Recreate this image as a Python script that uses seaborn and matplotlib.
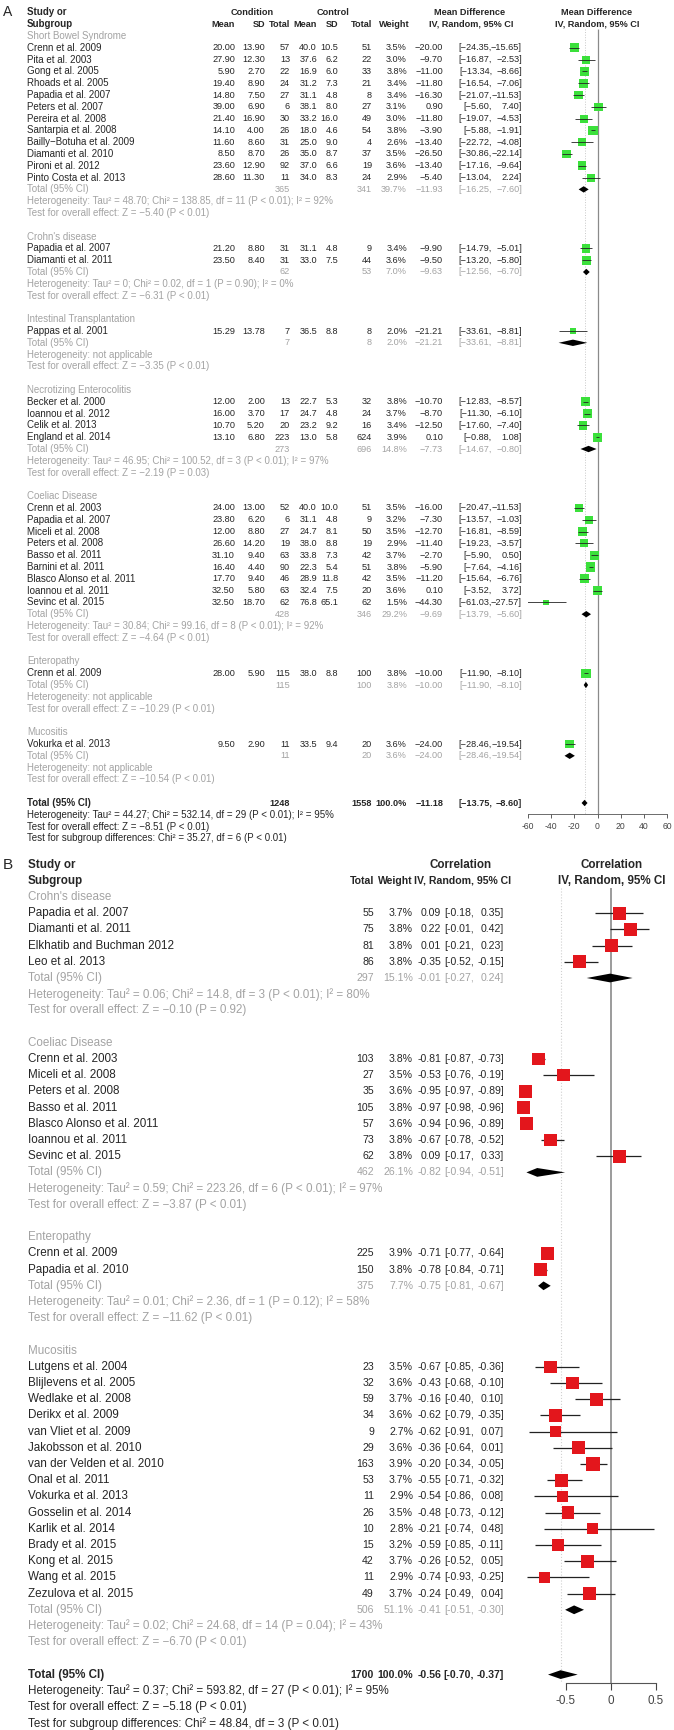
import matplotlib
matplotlib.use("Agg")
import matplotlib.pyplot as plt
import matplotlib.transforms as mtransforms
import seaborn as sns

# ---------------- Panel A: mean difference ----------------
a_groups = ["Short Bowel Syndrome", "Crohn's disease", "Intestinal Transplantation",
            "Necrotizing Enterocolitis", "Coeliac Disease", "Enteropathy", "Mucositis"]
a_study = ["Crenn et al. 2009", "Pita et al. 2003", "Gong et al. 2005", "Rhoads et al. 2005",
           "Papadia et al. 2007", "Peters et al. 2007", "Pereira et al. 2008", "Santarpia et al. 2008",
           "Bailly\u2212Botuha et al. 2009", "Diamanti et al. 2010", "Pironi et al. 2012",
           "Pinto Costa et al. 2013",
           "Papadia et al. 2007", "Diamanti et al. 2011",
           "Pappas et al. 2001",
           "Becker et al. 2000", "Ioannou et al. 2012", "Celik et al. 2013", "England et al. 2014",
           "Crenn et al. 2003", "Papadia et al. 2007", "Miceli et al. 2008", "Peters et al. 2008",
           "Basso et al. 2011", "Barnini et al. 2011", "Blasco Alonso et al. 2011",
           "Ioannou et al. 2011", "Sevinc et al. 2015",
           "Crenn et al. 2009",
           "Vokurka et al. 2013"]
a_group = [0] * 12 + [1] * 2 + [2] + [3] * 4 + [4] * 9 + [5] + [6]
a_cmean = [20.00, 27.90, 5.90, 19.40, 14.80, 39.00, 21.40, 14.10, 11.60, 8.50, 23.60, 28.60,
           21.20, 23.50, 15.29, 12.00, 16.00, 10.70, 13.10, 24.00, 23.80, 12.00, 26.60, 31.10,
           16.40, 17.70, 32.50, 32.50, 28.00, 9.50]
a_csd = [13.90, 12.30, 2.70, 8.90, 7.50, 6.90, 16.90, 4.00, 8.60, 8.70, 12.90, 11.30,
         8.80, 8.40, 13.78, 2.00, 3.70, 5.20, 6.80, 13.00, 6.20, 8.80, 14.20, 9.40,
         4.40, 9.40, 5.80, 18.70, 5.90, 2.90]
a_ctot = [57, 13, 22, 24, 27, 6, 30, 26, 31, 26, 92, 11, 31, 31, 7, 13, 17, 20, 223,
          52, 6, 27, 19, 63, 90, 46, 63, 62, 115, 11]
a_kmean = [40.0, 37.6, 16.9, 31.2, 31.1, 38.1, 33.2, 18.0, 25.0, 35.0, 37.0, 34.0, 31.1, 33.0,
           36.5, 22.7, 24.7, 23.2, 13.0, 40.0, 31.1, 24.7, 38.0, 33.8, 22.3, 28.9, 32.4, 76.8,
           38.0, 33.5]
a_ksd = [10.5, 6.2, 6.0, 7.3, 4.8, 8.0, 16.0, 4.6, 9.0, 8.7, 6.6, 8.3, 4.8, 7.5, 8.8, 5.3,
         4.8, 9.2, 5.8, 10.0, 4.8, 8.1, 8.8, 7.3, 5.4, 11.8, 7.5, 65.1, 8.8, 9.4]
a_ktot = [51, 22, 33, 21, 8, 27, 49, 54, 4, 37, 19, 24, 9, 44, 8, 32, 24, 16, 624,
          51, 9, 50, 19, 42, 51, 42, 20, 62, 100, 20]
a_weight = [3.5, 3.0, 3.8, 3.4, 3.4, 3.1, 3.0, 3.8, 2.6, 3.5, 3.6, 2.9, 3.4, 3.6, 2.0, 3.8,
            3.7, 3.4, 3.9, 3.5, 3.2, 3.5, 2.9, 3.7, 3.8, 3.5, 3.6, 1.5, 3.8, 3.6]
a_md = [-20.00, -9.70, -11.00, -11.80, -16.30, 0.90, -11.80, -3.90, -13.40, -26.50, -13.40,
        -5.40, -9.90, -9.50, -21.21, -10.70, -8.70, -12.50, 0.10, -16.00, -7.30, -12.70,
        -11.40, -2.70, -5.90, -11.20, 0.10, -44.30, -10.00, -24.00]
a_lo = [-24.35, -16.87, -13.34, -16.54, -21.07, -5.60, -19.07, -5.88, -22.72, -30.86, -17.16,
        -13.04, -14.79, -13.20, -33.61, -12.83, -11.30, -17.60, -0.88, -20.47, -13.57, -16.81,
        -19.23, -5.90, -7.64, -15.64, -3.52, -61.03, -11.90, -28.46]
a_hi = [-15.65, -2.53, -8.66, -7.06, -11.53, 7.40, -4.53, -1.91, -4.08, -22.14, -9.64, 2.24,
        -5.01, -5.80, -8.81, -8.57, -6.10, -7.40, 1.08, -11.53, -1.03, -8.59, -3.57, 0.50,
        -4.16, -6.76, 3.72, -27.57, -8.10, -19.54]

a_sub_ctot = [365, 62, 7, 273, 428, 115, 11]
a_sub_ktot = [341, 53, 8, 696, 346, 100, 20]
a_sub_w = [39.7, 7.0, 2.0, 14.8, 29.2, 3.8, 3.6]
a_sub_md = [-11.93, -9.63, -21.21, -7.73, -9.69, -10.00, -24.00]
a_sub_lo = [-16.25, -12.56, -33.61, -14.67, -13.79, -11.90, -28.46]
a_sub_hi = [-7.60, -6.70, -8.81, -0.80, -5.60, -8.10, -19.54]
a_sub_het = ["Heterogeneity: Tau\u00b2 = 48.70; Chi\u00b2 = 138.85, df = 11 (P < 0.01); I\u00b2 = 92%",
             "Heterogeneity: Tau\u00b2 = 0; Chi\u00b2 = 0.02, df = 1 (P = 0.90); I\u00b2 = 0%",
             "Heterogeneity: not applicable",
             "Heterogeneity: Tau\u00b2 = 46.95; Chi\u00b2 = 100.52, df = 3 (P < 0.01); I\u00b2 = 97%",
             "Heterogeneity: Tau\u00b2 = 30.84; Chi\u00b2 = 99.16, df = 8 (P < 0.01); I\u00b2 = 92%",
             "Heterogeneity: not applicable",
             "Heterogeneity: not applicable"]
a_sub_test = ["Test for overall effect: Z = \u22125.40 (P < 0.01)",
              "Test for overall effect: Z = \u22126.31 (P < 0.01)",
              "Test for overall effect: Z = \u22123.35 (P < 0.01)",
              "Test for overall effect: Z = \u22122.19 (P = 0.03)",
              "Test for overall effect: Z = \u22124.64 (P < 0.01)",
              "Test for overall effect: Z = \u221210.29 (P < 0.01)",
              "Test for overall effect: Z = \u221210.54 (P < 0.01)"]
a_all_ctot, a_all_ktot = 1248, 1558
a_all_md, a_all_lo, a_all_hi = -11.18, -13.75, -8.60
a_all_lines = ["Heterogeneity: Tau\u00b2 = 44.27; Chi\u00b2 = 532.14, df = 29 (P < 0.01); I\u00b2 = 95%",
               "Test for overall effect: Z = \u22128.51 (P < 0.01)",
               "Test for subgroup differences: Chi\u00b2 = 35.27, df = 6 (P < 0.01)"]
a_ticks = [-60, -40, -20, 0, 20, 40, 60]

# ---------------- Panel B: correlation ----------------
b_groups = ["Crohn's disease", "Coeliac Disease", "Enteropathy", "Mucositis"]
b_study = ["Papadia et al. 2007", "Diamanti et al. 2011", "Elkhatib and Buchman 2012", "Leo et al. 2013",
           "Crenn et al. 2003", "Miceli et al. 2008", "Peters et al. 2008", "Basso et al. 2011",
           "Blasco Alonso et al. 2011", "Ioannou et al. 2011", "Sevinc et al. 2015",
           "Crenn et al. 2009", "Papadia et al. 2010",
           "Lutgens et al. 2004", "Blijlevens et al. 2005", "Wedlake et al. 2008", "Derikx et al. 2009",
           "van Vliet et al. 2009", "Jakobsson et al. 2010", "van der Velden et al. 2010",
           "Onal et al. 2011", "Vokurka et al. 2013", "Gosselin et al. 2014", "Karlik et al. 2014",
           "Brady et al. 2015", "Kong et al. 2015", "Wang et al. 2015", "Zezulova et al. 2015"]
b_group = [0] * 4 + [1] * 7 + [2] * 2 + [3] * 15
b_total = [55, 75, 81, 86, 103, 27, 35, 105, 57, 73, 62, 225, 150,
           23, 32, 59, 34, 9, 29, 163, 53, 11, 26, 10, 15, 42, 11, 49]
b_weight = [3.7, 3.8, 3.8, 3.8, 3.8, 3.5, 3.6, 3.8, 3.6, 3.8, 3.8, 3.9, 3.8,
            3.5, 3.6, 3.7, 3.6, 2.7, 3.6, 3.9, 3.7, 2.9, 3.5, 2.8, 3.2, 3.7, 2.9, 3.7]
b_cor = [0.09, 0.22, 0.01, -0.35, -0.81, -0.53, -0.95, -0.97, -0.94, -0.67, 0.09, -0.71, -0.78,
         -0.67, -0.43, -0.16, -0.62, -0.62, -0.36, -0.20, -0.55, -0.54, -0.48, -0.21, -0.59,
         -0.26, -0.74, -0.24]
b_lo = [-0.18, -0.01, -0.21, -0.52, -0.87, -0.76, -0.97, -0.98, -0.96, -0.78, -0.17, -0.77, -0.84,
        -0.85, -0.68, -0.40, -0.79, -0.91, -0.64, -0.34, -0.71, -0.86, -0.73, -0.74, -0.85,
        -0.52, -0.93, -0.49]
b_hi = [0.35, 0.42, 0.23, -0.15, -0.73, -0.19, -0.89, -0.96, -0.89, -0.52, 0.33, -0.64, -0.71,
        -0.36, -0.10, 0.10, -0.35, 0.07, 0.01, -0.05, -0.32, 0.08, -0.12, 0.48, -0.11,
        0.05, -0.25, 0.04]

b_sub_total = [297, 462, 375, 506]
b_sub_w = [15.1, 26.1, 7.7, 51.1]
b_sub_cor = [-0.01, -0.82, -0.75, -0.41]
b_sub_lo = [-0.27, -0.94, -0.81, -0.51]
b_sub_hi = [0.24, -0.51, -0.67, -0.30]
b_sub_het = ["Heterogeneity: Tau\u00b2 = 0.06; Chi\u00b2 = 14.8, df = 3 (P < 0.01); I\u00b2 = 80%",
             "Heterogeneity: Tau\u00b2 = 0.59; Chi\u00b2 = 223.26, df = 6 (P < 0.01); I\u00b2 = 97%",
             "Heterogeneity: Tau\u00b2 = 0.01; Chi\u00b2 = 2.36, df = 1 (P = 0.12); I\u00b2 = 58%",
             "Heterogeneity: Tau\u00b2 = 0.02; Chi\u00b2 = 24.68, df = 14 (P = 0.04); I\u00b2 = 43%"]
b_sub_test = ["Test for overall effect: Z = \u22120.10 (P = 0.92)",
              "Test for overall effect: Z = \u22123.87 (P < 0.01)",
              "Test for overall effect: Z = \u221211.62 (P < 0.01)",
              "Test for overall effect: Z = \u22126.70 (P < 0.01)"]
b_all_total = 1700
b_all_cor, b_all_lo, b_all_hi = -0.56, -0.70, -0.37
b_all_lines = ["Heterogeneity: Tau\u00b2 = 0.37; Chi\u00b2 = 593.82, df = 27 (P < 0.01); I\u00b2 = 95%",
               "Test for overall effect: Z = \u22125.18 (P < 0.01)",
               "Test for subgroup differences: Chi\u00b2 = 48.84, df = 3 (P < 0.01)"]
b_ticks = [-0.5, 0, 0.5]
b_ticklabels = ["-0.5", "0", "0.5"]

# ---------------- styling ----------------
W, H = 674, 1730
GREY = "#a3a3a3"
GREEN = "#3be03b"
RED = "#e3161c"

sns.set_theme(style="white")
plt.rcParams["font.family"] = ["Liberation Sans", "DejaVu Sans"]

fig = plt.figure(figsize=(W / 100, H / 100), dpi=100)


def fmt(v, d=2, minus="\u2212"):
    return f"{v:.{d}f}".replace("-", minus)


def layout_rows(groups, group_idx):
    label_rows, study_rows, sub_rows = [], [], []
    r = 0
    for g in range(len(groups)):
        label_rows.append(r)
        r += 1
        for gi in group_idx:
            if gi == g:
                study_rows.append(r)
                r += 1
        sub_rows.append(r)
        r += 4
    return label_rows, study_rows, sub_rows, r


def panel_axes(y0, pitch, top_row, axis_row, left_px, right_px):
    top_px = y0 + pitch * top_row
    bot_px = y0 + pitch * axis_row
    ax = fig.add_axes([left_px / W, 1 - bot_px / H, (right_px - left_px) / W, (bot_px - top_px) / H])
    ax.set_ylim(axis_row, top_row)
    ax.patch.set_alpha(0)
    for s in ["top", "right", "left"]:
        ax.spines[s].set_visible(False)
    ax.set_yticks([])
    return ax


def put(ax, px, row, s, ha="left", **kw):
    tr = mtransforms.blended_transform_factory(fig.transFigure, ax.transData)
    ax.text(px / W, row, s, transform=tr, ha=ha, va="center", clip_on=False, **kw)


def diamond(ax, est, lo, hi, row, h):
    ax.fill([lo, est, hi, est], [row, row - h, row, row + h], color="black", lw=0, zorder=5)


# ================= Panel A =================
A_AXIS = 65.9
ax_a = panel_axes(36, 11.8, -2.7, A_AXIS, 528, 667)
ax_a.set_xlim(-60, 60)
la, sa, ua, oa = layout_rows(a_groups, a_group)
fa = 7.0    # labels
fan = 6.6   # numbers / column headers

ax_a.vlines(0, -0.6, A_AXIS, color="#8a8a8a", lw=0.9, zorder=1)
ax_a.vlines(a_all_md, -0.6, A_AXIS, color="#c8c8c8", lw=0.7, linestyles=":", zorder=1)
ax_a.hlines(sa, a_lo, a_hi, color="#222222", lw=0.6, zorder=4)
sns.scatterplot(x=a_md, y=sa, marker="s", s=[w * 11.5 for w in a_weight], color=GREEN,
                linewidth=0, legend=False, ax=ax_a, zorder=3)
for g in range(len(a_groups)):
    diamond(ax_a, a_sub_md[g], a_sub_lo[g], a_sub_hi[g], ua[g], 0.27)
diamond(ax_a, a_all_md, a_all_lo, a_all_hi, oa, 0.27)

ax_a.spines["bottom"].set_bounds(-60, 60)
ax_a.spines["bottom"].set_color("#555555")
ax_a.spines["bottom"].set_linewidth(0.6)
ax_a.set_xticks(a_ticks)
ax_a.set_xticklabels([fmt(t, 0, "-") for t in a_ticks])
ax_a.tick_params(axis="x", bottom=True, length=3, width=0.6, pad=3, labelsize=6.2,
                 colors="#444444")

# headers
put(ax_a, 3, -2, "A", fontsize=10)
put(ax_a, 27, -2, "Study or", fontsize=fa, fontweight="bold")
put(ax_a, 27, -1, "Subgroup", fontsize=fa, fontweight="bold")
put(ax_a, 252, -2, "Condition", ha="center", fontsize=fan, fontweight="bold")
put(ax_a, 333, -2, "Control", ha="center", fontsize=fan, fontweight="bold")
put(ax_a, 470, -2, "Mean Difference", ha="center", fontsize=fan, fontweight="bold")
put(ax_a, 597, -2, "Mean Difference", ha="center", fontsize=fan, fontweight="bold")
for px, lab in [(235, "Mean"), (265, "SD"), (290, "Total"), (317, "Mean"), (338, "SD"),
                (372, "Total"), (410, "Weight")]:
    put(ax_a, px, -1, lab, ha="right", fontsize=fan, fontweight="bold")
put(ax_a, 471, -1, "IV, Random, 95% CI", ha="center", fontsize=fan, fontweight="bold")
put(ax_a, 597, -1, "IV, Random, 95% CI", ha="center", fontsize=fan, fontweight="bold")

for i, r in enumerate(sa):
    put(ax_a, 27, r, a_study[i], fontsize=fa)
    put(ax_a, 235, r, fmt(a_cmean[i]), ha="right", fontsize=fan)
    put(ax_a, 265, r, fmt(a_csd[i]), ha="right", fontsize=fan)
    put(ax_a, 290, r, str(a_ctot[i]), ha="right", fontsize=fan)
    put(ax_a, 317, r, fmt(a_kmean[i], 1), ha="right", fontsize=fan)
    put(ax_a, 338, r, fmt(a_ksd[i], 1), ha="right", fontsize=fan)
    put(ax_a, 372, r, str(a_ktot[i]), ha="right", fontsize=fan)
    put(ax_a, 407, r, f"{a_weight[i]:.1f}%", ha="right", fontsize=fan)
    put(ax_a, 443, r, fmt(a_md[i]), ha="right", fontsize=fan)
    put(ax_a, 492, r, "[" + fmt(a_lo[i]) + ",", ha="right", fontsize=fan)
    put(ax_a, 522, r, fmt(a_hi[i]) + "]", ha="right", fontsize=fan)

for g in range(len(a_groups)):
    put(ax_a, 27, la[g], a_groups[g], fontsize=fa, color=GREY)
    r = ua[g]
    put(ax_a, 27, r, "Total (95% CI)", fontsize=fa, color=GREY)
    put(ax_a, 290, r, str(a_sub_ctot[g]), ha="right", fontsize=fan, color=GREY)
    put(ax_a, 372, r, str(a_sub_ktot[g]), ha="right", fontsize=fan, color=GREY)
    put(ax_a, 407, r, f"{a_sub_w[g]:.1f}%", ha="right", fontsize=fan, color=GREY)
    put(ax_a, 443, r, fmt(a_sub_md[g]), ha="right", fontsize=fan, color=GREY)
    put(ax_a, 492, r, "[" + fmt(a_sub_lo[g]) + ",", ha="right", fontsize=fan, color=GREY)
    put(ax_a, 522, r, fmt(a_sub_hi[g]) + "]", ha="right", fontsize=fan, color=GREY)
    put(ax_a, 27, r + 1, a_sub_het[g], fontsize=fa, color=GREY)
    put(ax_a, 27, r + 2, a_sub_test[g], fontsize=fa, color=GREY)

put(ax_a, 27, oa, "Total (95% CI)", fontsize=fa, fontweight="bold")
put(ax_a, 290, oa, str(a_all_ctot), ha="right", fontsize=fan, fontweight="bold")
put(ax_a, 372, oa, str(a_all_ktot), ha="right", fontsize=fan, fontweight="bold")
put(ax_a, 407, oa, "100.0%", ha="right", fontsize=fan, fontweight="bold")
put(ax_a, 443, oa, fmt(a_all_md), ha="right", fontsize=fan, fontweight="bold")
put(ax_a, 492, oa, "[" + fmt(a_all_lo) + ",", ha="right", fontsize=fan, fontweight="bold")
put(ax_a, 522, oa, fmt(a_all_hi) + "]", ha="right", fontsize=fan, fontweight="bold")
for k, line in enumerate(a_all_lines):
    put(ax_a, 27, oa + 1 + k, line, fontsize=fa)

# ================= Panel B =================
B_AXIS = 48.5
ax_b = panel_axes(897, 16.2, -2.7, B_AXIS, 512, 674)
ax_b.set_xlim(-1.1, 0.7)
lb, sb, ub, ob = layout_rows(b_groups, b_group)
fb = 8.4    # labels
fbn = 7.6   # numbers / column headers

ax_b.vlines(0, -0.55, B_AXIS, color="#8a8a8a", lw=1.2, zorder=1)
ax_b.vlines(b_all_cor, -0.55, B_AXIS, color="#d0d0d0", lw=0.8, linestyles=":", zorder=1)
ax_b.hlines(sb, b_lo, b_hi, color="#222222", lw=0.9, zorder=2)
sns.scatterplot(x=b_cor, y=sb, marker="s", s=[w * 23.0 for w in b_weight], color=RED,
                linewidth=0, legend=False, ax=ax_b, zorder=3)
for g in range(len(b_groups)):
    diamond(ax_b, b_sub_cor[g], b_sub_lo[g], b_sub_hi[g], ub[g], 0.27)
diamond(ax_b, b_all_cor, b_all_lo, b_all_hi, ob, 0.27)

ax_b.spines["bottom"].set_bounds(-0.5, 0.5)
ax_b.spines["bottom"].set_color("#555555")
ax_b.spines["bottom"].set_linewidth(0.8)
ax_b.set_xticks(b_ticks)
ax_b.set_xticklabels(b_ticklabels)
ax_b.tick_params(axis="x", bottom=True, length=5, width=0.8, pad=4, labelsize=fb,
                 colors="#444444")

put(ax_b, 3, -2, "B", fontsize=11)
put(ax_b, 28, -2, "Study or", fontsize=fb, fontweight="bold")
put(ax_b, 28, -1, "Subgroup", fontsize=fb, fontweight="bold")
put(ax_b, 461, -2, "Correlation", ha="center", fontsize=fb, fontweight="bold")
put(ax_b, 612, -2, "Correlation", ha="center", fontsize=fb, fontweight="bold")
put(ax_b, 374, -1, "Total", ha="right", fontsize=fbn, fontweight="bold")
put(ax_b, 413, -1, "Weight", ha="right", fontsize=fbn, fontweight="bold")
put(ax_b, 463, -1, "IV, Random, 95% CI", ha="center", fontsize=fbn, fontweight="bold")
put(ax_b, 612, -1, "IV, Random, 95% CI", ha="center", fontsize=fb, fontweight="bold")

for i, r in enumerate(sb):
    put(ax_b, 28, r, b_study[i], fontsize=fb)
    put(ax_b, 374, r, str(b_total[i]), ha="right", fontsize=fbn)
    put(ax_b, 413, r, f"{b_weight[i]:.1f}%", ha="right", fontsize=fbn)
    put(ax_b, 441, r, fmt(b_cor[i], 2, "-"), ha="right", fontsize=fbn)
    put(ax_b, 474, r, "[" + fmt(b_lo[i], 2, "-") + ",", ha="right", fontsize=fbn)
    put(ax_b, 504, r, fmt(b_hi[i], 2, "-") + "]", ha="right", fontsize=fbn)

for g in range(len(b_groups)):
    put(ax_b, 28, lb[g], b_groups[g], fontsize=fb, color=GREY)
    r = ub[g]
    put(ax_b, 28, r, "Total (95% CI)", fontsize=fb, color=GREY)
    put(ax_b, 374, r, str(b_sub_total[g]), ha="right", fontsize=fbn, color=GREY)
    put(ax_b, 413, r, f"{b_sub_w[g]:.1f}%", ha="right", fontsize=fbn, color=GREY)
    put(ax_b, 441, r, fmt(b_sub_cor[g], 2, "-"), ha="right", fontsize=fbn, color=GREY)
    put(ax_b, 474, r, "[" + fmt(b_sub_lo[g], 2, "-") + ",", ha="right", fontsize=fbn, color=GREY)
    put(ax_b, 504, r, fmt(b_sub_hi[g], 2, "-") + "]", ha="right", fontsize=fbn, color=GREY)
    put(ax_b, 28, r + 1, b_sub_het[g], fontsize=fb, color=GREY)
    put(ax_b, 28, r + 2, b_sub_test[g], fontsize=fb, color=GREY)

put(ax_b, 28, ob, "Total (95% CI)", fontsize=fb, fontweight="bold")
put(ax_b, 374, ob, str(b_all_total), ha="right", fontsize=fbn, fontweight="bold")
put(ax_b, 413, ob, "100.0%", ha="right", fontsize=fbn, fontweight="bold")
put(ax_b, 441, ob, fmt(b_all_cor, 2, "-"), ha="right", fontsize=fbn, fontweight="bold")
put(ax_b, 474, ob, "[" + fmt(b_all_lo, 2, "-") + ",", ha="right", fontsize=fbn, fontweight="bold")
put(ax_b, 504, ob, fmt(b_all_hi, 2, "-") + "]", ha="right", fontsize=fbn, fontweight="bold")
for k, line in enumerate(b_all_lines):
    put(ax_b, 28, ob + 1 + k, line, fontsize=fb)

fig.savefig("out.png", dpi=100, facecolor="white")
